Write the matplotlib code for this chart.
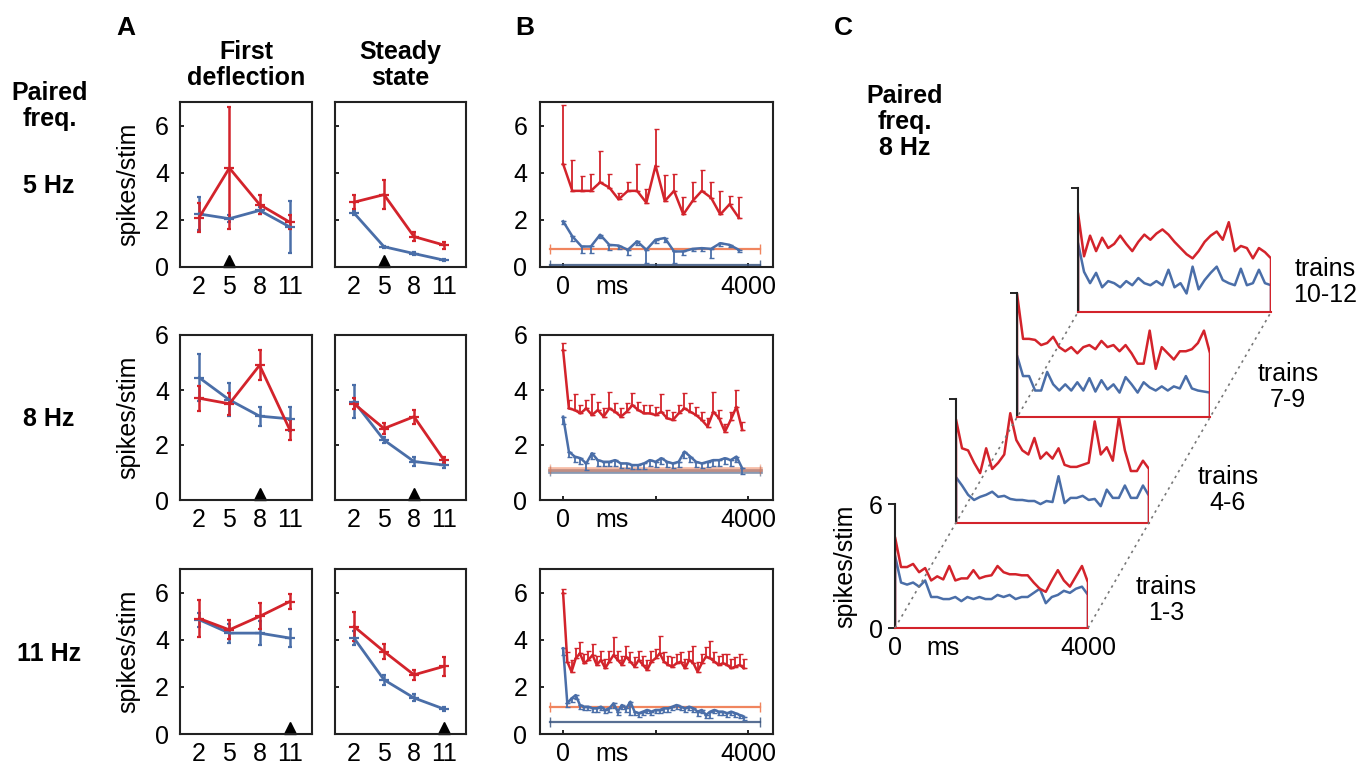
import numpy as np
import matplotlib
matplotlib.use('Agg')
import matplotlib.pyplot as plt
import matplotlib.transforms as mtransforms
from matplotlib.lines import Line2D

plt.rcParams['font.family'] = ['Liberation Sans', 'DejaVu Sans']

W, H = 1361, 772
RED = '#d3232b'
BLUE = '#4a6ea8'
ORANGE = '#f0855e'
DARKBLUE = '#3b5680'
AXC = '#222222'
FS = 18

# ---------------- data ----------------
freqs = [2, 5, 8, 11]
paired_freqs = [5, 8, 11]
paired_labels = ['5 Hz', '8 Hz', '11 Hz']
A_ylim_top = [7, 6, 7]

# Panel A, first deflection (rows: paired 5, 8, 11 Hz)
A_fd_red = [[2.10, 4.20, 2.65, 1.90], [3.70, 3.50, 4.90, 2.55], [4.90, 4.42, 4.99, 5.62]]
A_fd_red_err = [[0.60, 2.60, 0.40, 0.30], [0.45, 0.40, 0.55, 0.35], [0.80, 0.40, 0.55, 0.30]]
A_fd_blue = [[2.25, 2.05, 2.40, 1.70], [4.45, 3.64, 3.05, 2.95], [4.85, 4.28, 4.28, 4.07]]
A_fd_blue_err = [[0.70, 0.15, 0.15, 1.10], [0.85, 0.60, 0.35, 0.45], [0.30, 0.40, 0.50, 0.40]]
# Panel A, steady state
A_ss_red = [[2.75, 3.07, 1.29, 0.93], [3.50, 2.60, 3.03, 1.45], [4.56, 3.50, 2.51, 2.87]]
A_ss_red_err = [[0.30, 0.60, 0.20, 0.15], [0.20, 0.20, 0.25, 0.10], [0.60, 0.30, 0.20, 0.40]]
A_ss_blue = [[2.29, 0.86, 0.57, 0.29], [3.58, 2.18, 1.40, 1.27], [4.07, 2.30, 1.53, 1.06]]
A_ss_blue_err = [[0.10, 0.05, 0.05, 0.05], [0.60, 0.10, 0.15, 0.10], [0.30, 0.20, 0.15, 0.10]]

# Panel B: responses along the 4 s train (ms between stimuli)
B_interval = [200, 125, 1000 / 11]
B_red = [
    [4.37, 3.23, 3.23, 3.23, 3.59, 3.37, 2.87, 3.23, 3.23, 2.73, 4.30, 2.80, 3.23, 2.23, 2.80,
     3.23, 2.94, 2.23, 2.66, 2.09],
    [5.45, 3.33, 3.27, 3.15, 3.33, 3.09, 3.27, 3.03, 3.33, 3.21, 3.03, 3.21, 3.45, 3.27, 3.15,
     3.15, 3.09, 3.21, 2.97, 2.91, 3.15, 3.33, 3.21, 3.09, 2.91, 2.67, 3.21, 2.97, 2.48, 2.91,
     3.39, 2.55],
    [5.97, 3.07, 2.64, 3.21, 3.42, 3.00, 3.14, 3.35, 2.93, 3.14, 2.79, 3.07, 3.35, 3.14, 2.93,
     3.28, 3.07, 2.86, 3.14, 2.93, 2.72, 3.07, 3.21, 3.42, 3.07, 2.93, 2.86, 3.00, 3.07, 2.79,
     3.14, 3.00, 2.64, 3.00, 3.28, 3.21, 3.07, 2.93, 3.00, 2.93, 2.79, 2.86, 2.93, 2.79],
]
B_red_err = [
    [2.50, 1.33, 0.61, 0.71, 1.32, 0.57, 0.25, 0.36, 1.14, 0.57, 1.57, 1.10, 0.71, 0.74, 0.79,
     0.87, 0.65, 1.00, 0.35, 0.88],
    [0.25, 0.30, 0.60, 0.30, 0.30, 0.75, 0.30, 0.30, 0.60, 0.30, 0.30, 0.30, 0.45, 0.30, 0.30,
     0.30, 0.30, 0.65, 0.30, 0.30, 0.30, 0.55, 0.30, 0.30, 0.30, 0.30, 0.70, 0.30, 0.30, 0.30,
     0.60, 0.30],
    [0.20, 0.40, 0.50, 0.45, 0.50, 0.40, 0.40, 0.45, 0.40, 0.40, 0.40, 0.45, 0.75, 0.40, 0.40,
     0.45, 0.40, 0.40, 0.40, 0.40, 0.40, 0.45, 0.40, 0.75, 0.40, 0.40, 0.40, 0.40, 0.40, 0.40,
     0.40, 0.75, 0.40, 0.40, 0.40, 0.75, 0.40, 0.40, 0.40, 0.45, 0.40, 0.40, 0.45, 0.40],
]
B_blue = [
    [1.94, 1.30, 0.87, 0.87, 1.37, 0.94, 0.91, 0.73, 1.09, 0.73, 1.16, 1.23, 0.66, 0.66, 0.77,
     0.80, 0.77, 1.01, 0.94, 0.73],
    [3.03, 1.76, 1.58, 1.52, 1.33, 1.70, 1.45, 1.39, 1.39, 1.45, 1.33, 1.33, 1.27, 1.27, 1.33,
     1.45, 1.39, 1.52, 1.39, 1.33, 1.39, 1.76, 1.58, 1.39, 1.33, 1.39, 1.45, 1.45, 1.52, 1.45,
     1.58, 1.15],
    [3.64, 1.30, 1.51, 1.65, 1.23, 1.16, 1.16, 1.09, 1.09, 1.16, 1.02, 1.09, 1.30, 0.95, 1.23,
     1.09, 1.37, 0.95, 0.88, 0.95, 1.02, 0.95, 1.02, 1.02, 1.09, 1.09, 1.16, 1.23, 1.16, 1.09,
     1.16, 1.09, 0.95, 1.02, 0.81, 0.95, 1.02, 0.95, 0.95, 0.88, 0.95, 0.88, 0.81, 0.74],
]
B_blue_err = [
    [0.10, 0.20, 0.28, 0.28, 0.15, 0.20, 0.15, 0.22, 0.15, 0.57, 0.15, 0.15, 0.50, 0.15, 0.10,
     0.10, 0.40, 0.10, 0.10, 0.10],
    [0.25, 0.20, 0.20, 0.20, 0.25, 0.20, 0.20, 0.15, 0.15, 0.20, 0.15, 0.15, 0.15, 0.15, 0.20,
     0.20, 0.20, 0.20, 0.20, 0.15, 0.20, 0.25, 0.20, 0.20, 0.15, 0.20, 0.20, 0.20, 0.20, 0.20,
     0.20, 0.20],
    [0.30, 0.15, 0.15, 0.15, 0.15, 0.15, 0.15, 0.15, 0.15, 0.15, 0.15, 0.15, 0.20, 0.15, 0.15,
     0.15, 0.55, 0.15, 0.15, 0.15, 0.15, 0.15, 0.15, 0.15, 0.15, 0.15, 0.15, 0.15, 0.15, 0.15,
     0.15, 0.15, 0.20, 0.15, 0.15, 0.25, 0.15, 0.15, 0.15, 0.15, 0.15, 0.15, 0.15, 0.15],
]
B_base_red = [0.77, 1.12, 1.13]
B_base_blue = [0.10, 1.06, 0.50]
B_base_span = [-280, 4260]
B_ylim_top = [7, 6, 7]

# Panel C: paired 8 Hz, trains 1-3, 4-6, 7-9, 10-12 (125 ms bins)
C_interval = 125
C_labels = ['trains\n1-3', 'trains\n4-6', 'trains\n7-9', 'trains\n10-12']
C_red = [
    [4.4, 2.95, 2.95, 3.1, 2.7, 2.9, 2.3, 2.5, 2.35, 3.0, 2.3, 2.4, 2.4, 2.8, 2.4, 2.5, 2.55,
     3.0, 2.7, 2.6, 2.6, 2.55, 2.55, 2.2, 1.9, 1.75, 2.3, 2.8, 2.3, 2.0, 2.5, 3.0, 2.2],
    [5.0, 3.6, 3.5, 2.9, 2.4, 3.6, 2.6, 2.9, 3.3, 5.3, 4.0, 3.5, 3.3, 4.1, 3.1, 3.4, 3.1,
     3.6, 2.8, 2.7, 2.7, 2.8, 2.9, 4.9, 3.3, 3.65, 3.0, 5.1, 3.5, 2.5, 2.5, 3.0, 2.6],
    [6.0, 3.8, 3.8, 3.75, 3.5, 3.6, 3.9, 3.4, 3.2, 3.4, 3.1, 3.4, 3.5, 3.3, 3.7, 3.4, 3.5,
     3.2, 3.5, 3.1, 2.6, 2.6, 4.2, 2.35, 3.4, 3.1, 2.8, 3.2, 3.2, 3.3, 3.6, 4.2, 3.1],
    [4.8, 2.7, 3.7, 2.95, 3.6, 3.1, 3.3, 3.7, 3.3, 2.95, 3.4, 3.75, 3.5, 3.8, 4.0, 3.75, 3.4,
     3.1, 2.8, 2.6, 2.95, 3.4, 3.7, 3.9, 3.5, 4.35, 2.95, 3.2, 3.1, 2.6, 3.1, 2.9, 2.6],
]
C_blue = [
    [3.5, 2.2, 2.1, 2.2, 2.0, 2.3, 1.5, 1.5, 1.4, 1.4, 1.5, 1.3, 1.5, 1.4, 1.5, 1.4, 1.4,
     1.6, 1.5, 1.6, 1.4, 1.5, 1.5, 1.7, 1.9, 1.2, 1.5, 1.6, 1.8, 1.7, 1.9, 2.0, 1.6],
    [2.2, 1.8, 1.35, 1.1, 1.25, 1.35, 1.5, 1.25, 1.3, 1.15, 1.1, 1.1, 1.05, 1.05, 0.9, 1.05,
     1.0, 2.25, 0.95, 1.2, 1.2, 1.3, 1.1, 1.15, 0.8, 1.6, 1.2, 1.2, 1.8, 1.2, 1.2, 1.8, 1.3],
    [3.0, 2.0, 2.0, 1.3, 1.3, 2.2, 1.6, 1.3, 1.6, 1.3, 1.7, 1.3, 1.9, 1.25, 1.8, 1.35, 1.6,
     1.2, 1.95, 1.6, 1.2, 1.7, 1.45, 1.3, 1.5, 1.3, 1.5, 1.4, 2.0, 1.4, 1.3, 1.25, 1.2],
    [3.35, 1.95, 1.4, 1.9, 1.2, 1.5, 1.4, 1.2, 1.5, 1.3, 1.65, 1.4, 1.3, 1.5, 1.3, 2.05, 1.2,
     1.4, 0.9, 2.2, 1.1, 1.55, 1.9, 2.2, 1.55, 1.4, 1.3, 2.1, 1.3, 1.4, 2.05, 1.4, 1.3],
]

# ---------------- layout helpers ----------------
fig = plt.figure(figsize=(W / 100, H / 100), dpi=100)


def rect(x0, y0, x1, y1):
    return [x0 / W, 1 - y1 / H, (x1 - x0) / W, (y1 - y0) / H]


def ftext(x, y, s, **kw):
    fig.text(x / W, 1 - y / H, s, **kw)


def style_box(ax):
    for sp in ax.spines.values():
        sp.set_color(AXC)
        sp.set_linewidth(1.5)


rows_y = [(102, 267), (335, 500), (569, 734)]

# ---------------- Panel A ----------------
for r in range(3):
    y0, y1 = rows_y[r]
    for c, (x0, x1) in enumerate([(180, 312), (335, 466)]):
        ax = fig.add_axes(rect(x0, y0, x1, y1))
        style_box(ax)
        if c == 0:
            rv, re, bv, be = A_fd_red[r], A_fd_red_err[r], A_fd_blue[r], A_fd_blue_err[r]
        else:
            rv, re, bv, be = A_ss_red[r], A_ss_red_err[r], A_ss_blue[r], A_ss_blue_err[r]
        ax.errorbar(freqs, bv, yerr=be, color=BLUE, lw=2.0, elinewidth=1.8, capsize=1.5,
                    marker='_', ms=7, mew=1.6)
        ax.errorbar(freqs, rv, yerr=re, color=RED, lw=2.0, elinewidth=1.8, capsize=1.5,
                    marker='_', ms=7, mew=1.6)
        ax.set_xlim(0.1, 13.2)
        ax.set_ylim(0, A_ylim_top[r])
        ax.set_xticks(freqs)
        ax.set_xticklabels([str(f) for f in freqs])
        ax.set_yticks([0, 2, 4, 6])
        ax.tick_params(axis='x', length=0, pad=6, labelsize=FS)
        ax.tick_params(axis='y', direction='in', length=3, width=1.2, pad=8, labelsize=FS,
                       labelleft=(c == 0))
        tr = mtransforms.blended_transform_factory(ax.transData, ax.transAxes)
        ax.plot([paired_freqs[r]], [0.035], marker='^', color='black', ms=9,
                transform=tr, clip_on=False)
    ftext(128, (y0 + y1) / 2, 'spikes/stim', rotation=90, ha='center', va='center',
          fontsize=FS)
    ftext(49, [186, 419, 654][r], paired_labels[r], ha='center', va='center',
          fontsize=FS, fontweight='bold')

# ---------------- Panel B ----------------
for r in range(3):
    y0, y1 = rows_y[r]
    ax = fig.add_axes(rect(540, y0, 773, y1))
    style_box(ax)
    rv = np.array(B_red[r])
    re = np.array(B_red_err[r])
    bv = np.array(B_blue[r])
    be = np.array(B_blue_err[r])
    t_r = np.arange(len(rv)) * B_interval[r]
    t_b = np.arange(len(bv)) * B_interval[r]
    lwb = 1.6 if r != 1 else 3.4
    ax.plot(B_base_span, [B_base_blue[r]] * 2, color=DARKBLUE, lw=lwb, marker='|', ms=7,
            alpha=0.85 if r != 1 else 0.6)
    ax.plot(B_base_span, [B_base_red[r]] * 2, color=ORANGE, lw=lwb, marker='|', ms=7,
            alpha=1.0 if r != 1 else 0.55)
    ax.errorbar(t_b, bv, yerr=[be, np.zeros_like(be)], color=BLUE, lw=1.8, elinewidth=1.3,
                capsize=1.8, marker='_', ms=3)
    ax.errorbar(t_r, rv, yerr=[np.zeros_like(re), re], color=RED, lw=1.8, elinewidth=1.3,
                capsize=1.8, marker='_', ms=3)
    ax.set_xlim(-500, 4540)
    ax.set_ylim(0, B_ylim_top[r])
    ax.set_xticks([0, 2000, 4000])
    ax.set_xticklabels(['0', '', '4000'])
    ax.set_xticks([1060], ['ms'], minor=True)
    ax.set_yticks([0, 2, 4, 6])
    ax.tick_params(axis='x', which='major', direction='in', length=3, width=1.2, pad=6,
                   labelsize=FS)
    ax.tick_params(axis='x', which='minor', length=0, pad=6, labelsize=FS)
    ax.tick_params(axis='y', direction='in', length=3, width=1.2, pad=9, labelsize=FS)

# ---------------- Panel C ----------------
C_left0, C_bottom0, C_dx, C_dy, C_w, C_h = 895, 628, 61, 105.3, 193, 124
C_axes = []
for i in reversed(range(4)):
    x0 = C_left0 + C_dx * i
    yb = C_bottom0 - C_dy * i
    ax = fig.add_axes(rect(x0, yb - C_h, x0 + C_w, yb))
    ax.patch.set_alpha(0)
    rv = C_red[i]
    bv = C_blue[i]
    t_r = np.arange(len(rv)) * C_interval
    t_b = np.arange(len(bv)) * C_interval
    ax.plot(np.r_[t_b[0], t_b, t_b[-1]], np.r_[0, bv, 0], color=BLUE, lw=1.8)
    ax.plot(np.r_[t_r[0], t_r, t_r[-1]], np.r_[0, rv, 0], color=RED, lw=1.8)
    ax.set_xlim(0, 4000)
    ax.set_ylim(0, 6)
    for s in ['top', 'right']:
        ax.spines[s].set_visible(False)
    ax.spines['left'].set_color(AXC)
    ax.spines['left'].set_linewidth(1.5)
    ax.spines['bottom'].set_color(RED)
    ax.spines['bottom'].set_linewidth(1.5)
    if i == 0:
        ax.set_yticks([0, 6])
        ax.set_xticks([0, 4000])
        ax.set_xticks([1000], ['ms'], minor=True)
        ax.tick_params(axis='y', direction='out', length=5, width=1.2, pad=4, labelsize=FS)
        ax.tick_params(axis='x', which='both', length=0, pad=6, labelsize=FS)
    else:
        ax.set_yticks([6])
        ax.set_yticklabels([])
        ax.set_xticks([])
        ax.tick_params(axis='y', direction='out', length=5, width=1.2)
    C_axes.append(ax)
C_axes = C_axes[::-1]

inv = fig.transFigure.inverted()
for xd in [0, 4000]:
    p0 = inv.transform(C_axes[0].transData.transform((xd, 0)))
    p3 = inv.transform(C_axes[3].transData.transform((xd, 0)))
    fig.add_artist(Line2D([p0[0], p3[0]], [p0[1], p3[1]], transform=fig.transFigure,
                          ls=(0, (1.5, 2.5)), color='#777777', lw=1.2))

for lab, (x, y) in zip(C_labels, [(1166, 600), (1228, 490), (1288, 387), (1325, 282)]):
    ftext(x, y, lab, ha='center', va='center', fontsize=FS, linespacing=1.15)

ftext(845, 566, 'spikes/stim', rotation=90, ha='center', va='center', fontsize=FS)

# ---------------- headers ----------------
ftext(126, 28, 'A', ha='center', va='center', fontsize=FS + 1, fontweight='bold')
ftext(525, 28, 'B', ha='center', va='center', fontsize=FS + 1, fontweight='bold')
ftext(843, 28, 'C', ha='center', va='center', fontsize=FS + 1, fontweight='bold')
ftext(246, 65, 'First\ndeflection', ha='center', va='center', fontsize=FS,
      fontweight='bold', linespacing=1.1)
ftext(400, 65, 'Steady\nstate', ha='center', va='center', fontsize=FS,
      fontweight='bold', linespacing=1.1)
ftext(50, 106, 'Paired\nfreq.', ha='center', va='center', fontsize=FS,
      fontweight='bold', linespacing=1.1)
ftext(905, 122, 'Paired\nfreq.\n8 Hz', ha='center', va='center', fontsize=FS,
      fontweight='bold', linespacing=1.1)

fig.savefig('out.png', dpi=100)
